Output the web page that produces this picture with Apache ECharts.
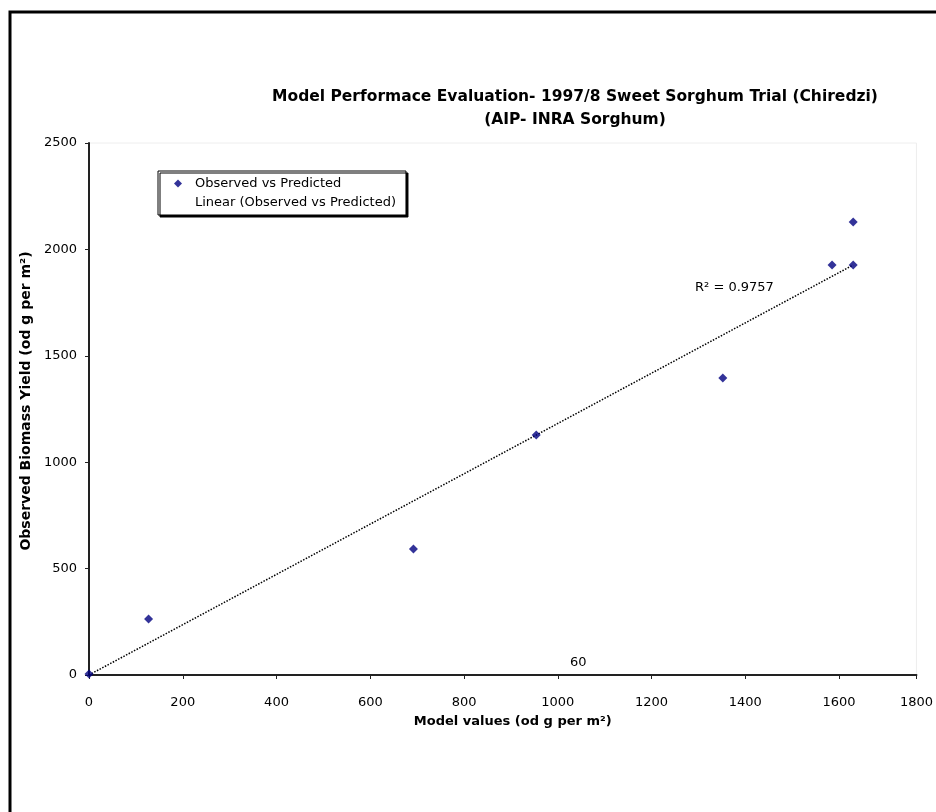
<!DOCTYPE html>
<html>
<head>
<meta charset="utf-8">
<script src="https://cdn.jsdelivr.net/npm/echarts@6/dist/echarts.min.js"></script>
<style>
  html, body { margin: 0; padding: 0; background: #fff; }
  #chart { width: 936px; height: 812px; }
</style>
</head>
<body>
<div id="chart"></div>
<script>
// values
const modelValues = [0, 127, 692, 954, 1352, 1585, 1630, 1630];
const observedValues = [5, 263, 592, 1128, 1396, 1927, 1927, 2129];
const xTicks = [0, 200, 400, 600, 800, 1000, 1200, 1400, 1600, 1800];
const yTicks = [0, 500, 1000, 1500, 2000, 2500];
const rSquared = '0.9757';

// the picture is cropped on the right: axis ends a bit before 1800
const xMax = 1765;

const font = '"DejaVu Sans", "Liberation Sans", Arial, sans-serif';

// linear trendline through the origin (as in the Excel chart)
let sxy = 0, sxx = 0;
modelValues.forEach((x, i) => { sxy += x * observedValues[i]; sxx += x * x; });
const slope = sxy / sxx;
const xLo = Math.min(...modelValues), xHi = Math.max(...modelValues);
const trend = [[xLo, slope * xLo], [xHi, slope * xHi]];

const chart = echarts.init(document.getElementById('chart'));

chart.setOption({
  backgroundColor: '#fff',
  animation: false,
  textStyle: { fontFamily: font },
  title: {
    text: 'Model Performace Evaluation- 1997/8 Sweet Sorghum Trial (Chiredzi)\n(AIP- INRA Sorghum)',
    left: 570,
    top: 80,
    textAlign: 'center',
    textStyle: { fontSize: 15.5, fontWeight: 'bold', color: '#000', lineHeight: 23, fontFamily: font }
  },
  legend: {
    orient: 'vertical',
    left: 158,
    top: 171,
    padding: [6, 10, 6, 8],
    itemGap: 6,
    itemWidth: 24,
    itemHeight: 8,
    symbolKeepAspect: true,
    backgroundColor: '#fff',
    borderColor: '#000',
    borderWidth: 1,
    shadowColor: '#000',
    shadowOffsetX: 2,
    shadowOffsetY: 2,
    shadowBlur: 0,
    textStyle: { fontSize: 13, color: '#000', fontFamily: font },
    data: [
      { name: 'Observed vs Predicted', icon: 'path://M5,0L10,5L5,10L0,5Z' },
      { name: 'Linear (Observed vs Predicted)', icon: 'rect', itemStyle: { color: 'rgba(0,0,0,0)' } }
    ]
  },
  grid: {
    left: 89, top: 143, right: 936 - 921, bottom: 812 - 675,
    show: true, borderColor: '#eee', borderWidth: 1
  },
  xAxis: {
    type: 'value',
    min: xTicks[0],
    max: xMax,
    interval: xTicks[1] - xTicks[0],
    name: 'Model values (od g per m²)',
    nameLocation: 'middle',
    nameGap: 40,
    nameTextStyle: { fontSize: 13, fontWeight: 'bold', color: '#000', padding: [0, 0, 0, 20] },
    axisLine: { lineStyle: { color: '#222', width: 2 } },
    axisTick: { show: true, length: 4, lineStyle: { color: '#222' } },
    axisLabel: {
      fontSize: 13, color: '#000', margin: 21,
      formatter: v => (v === xMax ? String(xTicks[xTicks.length - 1]) : String(v))
    },
    splitLine: { show: false }
  },
  yAxis: {
    type: 'value',
    min: yTicks[0],
    max: yTicks[yTicks.length - 1],
    interval: yTicks[1] - yTicks[0],
    name: 'Observed Biomass Yield (od g per m²)',
    nameLocation: 'middle',
    nameRotate: 90,
    nameGap: 52,
    nameTextStyle: { fontSize: 14, fontWeight: 'bold', color: '#000', padding: [0, 0, 0, 16] },
    axisLine: { show: true, lineStyle: { color: '#222', width: 2 } },
    axisTick: { show: true, length: 4, lineStyle: { color: '#222' } },
    axisLabel: { fontSize: 13, color: '#000', margin: 12, formatter: v => String(v) },
    splitLine: { show: false }
  },
  series: [
    {
      name: 'Observed vs Predicted',
      type: 'scatter',
      symbol: 'diamond',
      symbolSize: 9,
      itemStyle: { color: '#000080' },
      data: modelValues.map((x, i) => [x, observedValues[i]]),
      z: 3
    },
    {
      name: 'Linear (Observed vs Predicted)',
      type: 'line',
      showSymbol: false,
      symbol: 'none',
      lineStyle: { color: '#000', width: 1.5, type: 'dotted' },
      data: trend,
      z: 2
    }
  ],
  graphic: [
    {
      type: 'rect',
      shape: { x: 10, y: 12, width: 2000, height: 2000 },
      style: { fill: 'none', stroke: '#000', lineWidth: 3 },
      silent: true
    },
    {
      type: 'text',
      left: 695,
      top: 281,
      style: { text: 'R² = ' + rSquared, fill: '#000', font: '13px ' + font }
    },
    {
      type: 'text',
      left: 570,
      top: 656,
      style: { text: '60', fill: '#000', font: '13px ' + font }
    }
  ]
});
</script>
</body>
</html>
